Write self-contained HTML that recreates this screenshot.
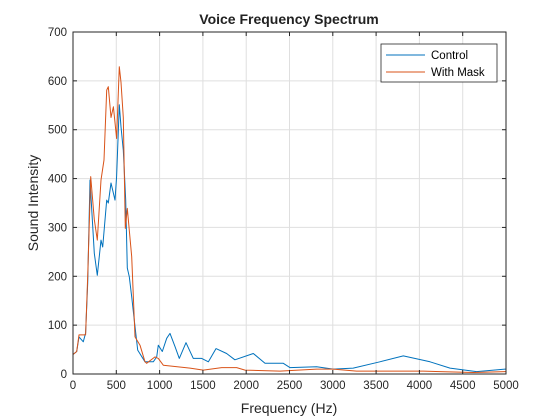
<!DOCTYPE html>
<html><head><meta charset="utf-8"><style>
body{margin:0;background:#fff;}
svg{display:block;font-family:"Liberation Sans",Arial,sans-serif;}
</style></head><body>
<svg id="chart" width="560" height="420">
<rect x="0" y="0" width="560" height="420" fill="#fff"/>
<rect x="73" y="32" width="433" height="342" fill="#fff"/>
<g id="grid"></g><g id="series"></g><g id="axes"></g>
<text x="289" y="24" text-anchor="middle" font-size="14" font-weight="bold" fill="#222">Voice Frequency Spectrum</text>
<text x="289" y="413" text-anchor="middle" font-size="14" fill="#262626">Frequency (Hz)</text>
<text transform="translate(38,203) rotate(-90)" text-anchor="middle" font-size="14" fill="#262626">Sound Intensity</text>
<g>
<rect x="381" y="44" width="116" height="38" fill="#fff" stroke="#262626" stroke-width="0.8"/>
<line x1="386" y1="55" x2="425" y2="55" stroke="#0072bd" stroke-width="1"/>
<text x="431" y="59" font-size="11.5" fill="#000">Control</text>
<line x1="386" y1="72" x2="425" y2="72" stroke="#d95319" stroke-width="1"/>
<text x="431" y="76" font-size="11.5" fill="#000">With Mask</text>
</g>
</svg>
<script>
const xTicks=[0,500,1000,1500,2000,2500,3000,3500,4000,4500,5000];
const yTicks=[0,100,200,300,400,500,600,700];
const controlFreq=[0,43,69,119,146,170,196,246,281,323,343,389,408,439,466,485,504,535,554,581,608,627,650,678,716,747,831,927,966,985,1031,1082,1120,1178,1228,1305,1389,1486,1563,1651,1774,1870,2082,2217,2428,2505,2813,3005,3236,3544,3814,4122,4353,4661,4988,5000];
const controlVals=[40,46,76,66,84,186,397,247,202,274,260,356,350,391,370,356,404,551,506,458,356,217,199,158,97,49,25,25,35,59,46,73,83,56,32,64,32,32,25,52,42,29,42,22,22,13,15,10,12,25,37,25,12,5,10,10];
const maskFreq=[0,43,69,146,170,204,246,281,323,358,389,408,439,466,504,535,554,581,604,627,678,716,774,831,850,947,985,1043,1351,1505,1717,1890,1986,2390,2813,3005,3275,4045,4237,4622,4988,5000];
const maskVals=[40,46,80,80,200,404,316,274,397,438,581,588,525,547,482,629,597,525,298,339,240,76,59,25,22,35,32,18,12,8,13,13,8,6,10,10,6,6,5,3,5,5];
const X0=73,X1=506,Y0=374,Y1=32;
const sx=v=>X0+(v-0)/5000*(X1-X0);
const sy=v=>Y0-(v-0)/700*(Y0-Y1);
const NS="http://www.w3.org/2000/svg";
function mk(t,a,p){const e=document.createElementNS(NS,t);for(const k in a)e.setAttribute(k,a[k]);p.appendChild(e);return e;}
const grid=document.getElementById('grid'),axes=document.getElementById('axes'),ser=document.getElementById('series');
xTicks.forEach(t=>{const x=sx(t);
 const g=mk('line',{x1:x,y1:Y1,x2:x,y2:Y0,stroke:'#dfdfdf','stroke-width':1},grid);
 
 
 mk('line',{x1:x,y1:Y0,x2:x,y2:Y0-4,stroke:'#262626'},axes);
 mk('line',{x1:x,y1:Y1,x2:x,y2:Y1+4,stroke:'#262626'},axes);
 const l=mk('text',{x:x,y:Y0+15,'text-anchor':'middle','font-size':11.5,fill:'#262626'},axes);l.textContent=t;
 
 });
yTicks.forEach(t=>{const y=sy(t);
 const g=mk('line',{x1:X0,y1:y,x2:X1,y2:y,stroke:'#dfdfdf','stroke-width':1},grid);
 
 
 mk('line',{x1:X0,y1:y,x2:X0+4,y2:y,stroke:'#262626'},axes);
 mk('line',{x1:X1,y1:y,x2:X1-4,y2:y,stroke:'#262626'},axes);
 const l=mk('text',{x:X0-6,y:y+4,'text-anchor':'end','font-size':11.5,fill:'#262626'},axes);l.textContent=t;
 
 });
const box=mk('rect',{x:X0,y:Y1,width:X1-X0,height:Y0-Y1,fill:'none',stroke:'#262626','stroke-width':1},axes);


function line(fs,vs,c,n){const d=fs.map((f,i)=>(i?'L':'M')+sx(f).toFixed(1)+','+sy(vs[i]).toFixed(1)).join('');
 const p=mk('path',{d:d,fill:'none',stroke:c,'stroke-width':1,'stroke-linejoin':'round'},ser);
 
 }
line(controlFreq,controlVals,'#0072bd','control-line');
line(maskFreq,maskVals,'#d95319','with-mask-line');
</script>
</body></html>
